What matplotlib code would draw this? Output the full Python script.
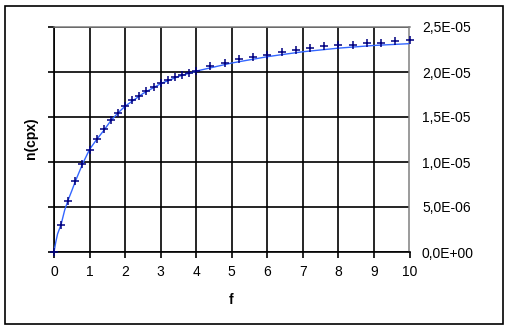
import matplotlib
matplotlib.use("Agg")
import matplotlib.pyplot as plt
from matplotlib.ticker import FuncFormatter
from matplotlib.patches import Rectangle

# Data (y values in units of 1e-6)
marker_f = [0, 0.2, 0.4, 0.6, 0.8, 1.0, 1.2, 1.4, 1.6, 1.8, 2.0, 2.2, 2.4, 2.6, 2.8,
            3.0, 3.2, 3.4, 3.6, 3.8, 4.0, 4.4, 4.8, 5.2, 5.6, 6.0, 6.4, 6.8, 7.2, 7.6,
            8.0, 8.4, 8.8, 9.2, 9.6, 10.0]
marker_n = [0, 3.03, 5.7, 7.85, 9.78, 11.3, 12.55, 13.67, 14.67, 15.44, 16.26, 16.9,
            17.33, 17.93, 18.33, 18.8, 19.1, 19.4, 19.67, 19.9, 20.1, 20.67, 21.0, 21.4,
            21.63, 21.93, 22.26, 22.44, 22.63, 22.89, 23.05, 22.96, 23.19, 23.27, 23.41,
            23.55]

line_f = [0, 0.05, 0.1, 0.2, 0.3, 0.4, 0.5, 0.6, 0.8, 1.0, 1.2, 1.4, 1.6, 1.8, 2.0,
          2.5, 3.0, 3.5, 4.0, 4.5, 5.0, 5.5, 6.0, 6.5, 7.0, 7.5, 8.0, 8.5, 9.0, 9.5, 10.0]
line_n = [0, 1.1, 2.0, 3.07, 4.65, 5.8, 6.8, 7.85, 9.75, 11.4, 12.5, 13.5, 14.6, 15.45,
          16.2, 17.6, 18.7, 19.5, 20.1, 20.55, 21.0, 21.35, 21.7, 21.98, 22.25, 22.45,
          22.65, 22.8, 22.95, 23.05, 23.15]

x_ticks = list(range(0, 11))
y_ticks = [0, 5e-6, 1e-5, 1.5e-5, 2e-5, 2.5e-5]

plt.rcParams['font.family'] = ['Liberation Sans', 'DejaVu Sans']

fig = plt.figure(figsize=(5.10, 3.31), dpi=100)
ax = fig.add_axes([54/510, 79/331, 355.5/510, 225/331])

ax.plot(line_f, [v * 1e-6 for v in line_n], color='#3366FF', lw=1.0, zorder=3)
ax.plot(marker_f, [v * 1e-6 for v in marker_n], linestyle='none', marker='+',
        markersize=5.5, markeredgewidth=1.1, color='#000080', zorder=4, clip_on=False)

ax.set_xlim(0, 10)
ax.set_ylim(0, 2.5e-5)
ax.set_xticks(x_ticks)
ax.set_yticks(y_ticks)
ax.yaxis.set_major_formatter(FuncFormatter(lambda v, p: f"{v:.1E}".replace('.', ',')))

ax.grid(True, color='black', lw=1.2, zorder=1)
ax.set_axisbelow(True)

ax.tick_params(axis='x', direction='out', length=4, width=1.2, color='black',
               labelsize=10, pad=5)
ax.tick_params(axis='y', direction='out', length=4, width=1.2, color='black',
               left=True, right=False, labelleft=False, labelright=True,
               labelsize=10, pad=5)

for s in ['left', 'bottom']:
    ax.spines[s].set_color('black')
    ax.spines[s].set_linewidth(1.2)
for s in ['top', 'right']:
    ax.spines[s].set_color('#808080')
    ax.spines[s].set_linewidth(1.1)

fig.text(231/510, 1 - 300/331, 'f', ha='center', va='center', fontsize=10, fontweight='bold')
fig.text(31/510, 1 - 138/331, 'n(cpx)', ha='center', va='center', rotation=90,
         fontsize=10, fontweight='bold')

fig.patches.append(Rectangle((5/510, 7/331), 498/510, 318/331, transform=fig.transFigure,
                             fill=False, edgecolor='black', lw=1.2))

fig.savefig('out.png', dpi=100)
